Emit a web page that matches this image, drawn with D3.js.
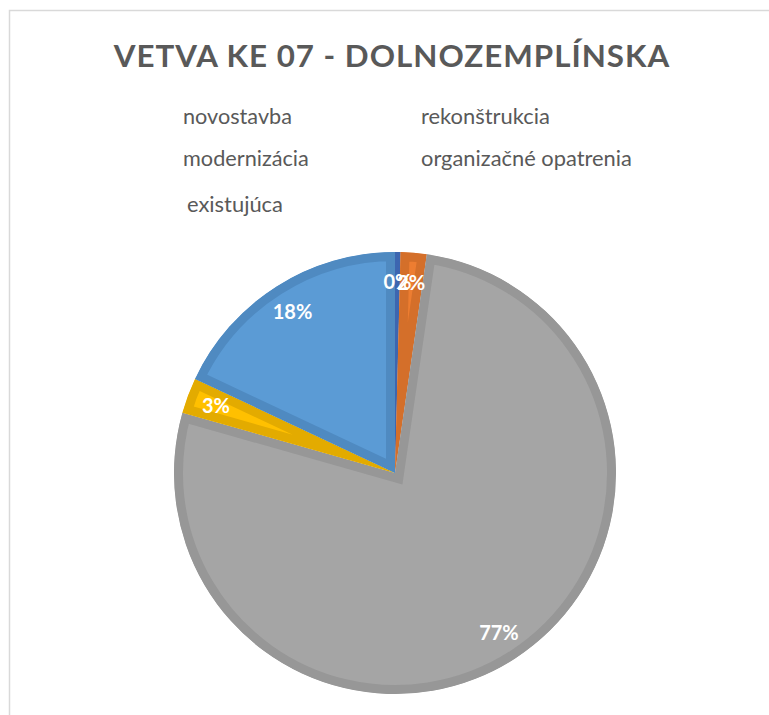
<!DOCTYPE html>
<html>
<head>
<meta charset="utf-8">
<script src="https://cdn.jsdelivr.net/npm/d3@7"></script>
<style>
  html, body { margin: 0; padding: 0; background: #fff; }
  svg { display: block; }
</style>
</head>
<body>
<script>
// Share of line sections by type of intervention (percent)
const categories = ["novostavba", "rekonštrukcia", "modernizácia", "organizačné opatrenia", "existujúca"];
const values = [0.4, 1.9, 77.1, 2.6, 18.0];
const fillColors = ["#4472C4", "#ED7D31", "#A5A5A5", "#FFC000", "#5B9BD5"];
const edgeColors = ["#3D66B0", "#D46F2A", "#979797", "#E3AB00", "#4F8AC1"];
const title = "VETVA KE 07 - DOLNOZEMPLÍNSKA";

const W = 769, H = 715;
const svg = d3.select("body").append("svg").attr("width", W).attr("height", H);

// chart frame
svg.append("rect")
  .attr("x", 9.5).attr("y", 10.5)
  .attr("width", 900).attr("height", 900)
  .attr("fill", "#fff").attr("stroke", "#D9D9D9").attr("stroke-width", 1.5);

const font = "Lato, 'Open Sans', sans-serif";

// fit a text element to a given width by scaling its font size
function fitWidth(sel, target) {
  const w = sel.node().getComputedTextLength();
  const fs = parseFloat(sel.attr("font-size"));
  sel.attr("font-size", fs * target / w);
}

const t = svg.append("text")
  .attr("x", 392).attr("y", 67)
  .attr("text-anchor", "middle")
  .attr("font-family", font).attr("font-weight", 700)
  .attr("font-size", 30).attr("fill", "#595959")
  .attr("letter-spacing", 1)
  .text(title);
fitWidth(t, 558);

// legend (text entries)
const legendPos = [[183, 124], [421, 124], [183, 166], [421, 166], [187, 212]];
const legendWidths = [109, 129, 126, 211, 96];
categories.forEach((c, i) => {
  const lt = svg.append("text")
    .attr("x", legendPos[i][0]).attr("y", legendPos[i][1])
    .attr("font-family", font).attr("font-size", 18)
    .attr("fill", "#595959")
    .text(c);
  fitWidth(lt, legendWidths[i]);
});

// pie
const cx = 395, cy = 473, R = 221, band = 9;
const pie = d3.pie().sort(null).value(d => d);
const arcs = pie(values);
const arc = d3.arc().innerRadius(0).outerRadius(R);
const labelArc = d3.arc().innerRadius(R * 0.865).outerRadius(R * 0.865);

const g = svg.append("g").attr("transform", `translate(${cx},${cy})`);
const defs = svg.append("defs");

arcs.forEach((a, i) => {
  defs.append("clipPath").attr("id", "slice-clip-" + i)
    .append("path").attr("d", arc(a));
});

g.selectAll("path.slice")
  .data(arcs)
  .join("path")
  .attr("class", "slice")
  .attr("d", arc)
  .attr("fill", (d, i) => fillColors[i])
  .attr("stroke", (d, i) => edgeColors[i])
  .attr("stroke-width", band * 2)
  .attr("stroke-linejoin", "miter")
  .attr("clip-path", (d, i) => `url(#slice-clip-${i})`);

const total = d3.sum(values);
g.selectAll("text.lbl")
  .data(arcs)
  .join("text")
  .attr("class", "lbl")
  .attr("transform", d => `translate(${labelArc.centroid(d)})`)
  .attr("text-anchor", "middle")
  .attr("dy", "0.35em")
  .attr("font-family", font).attr("font-weight", 700)
  .attr("font-size", 20).attr("fill", "#fff")
  .text(d => Math.round(d.data / total * 100) + "%");
</script>
</body>
</html>
